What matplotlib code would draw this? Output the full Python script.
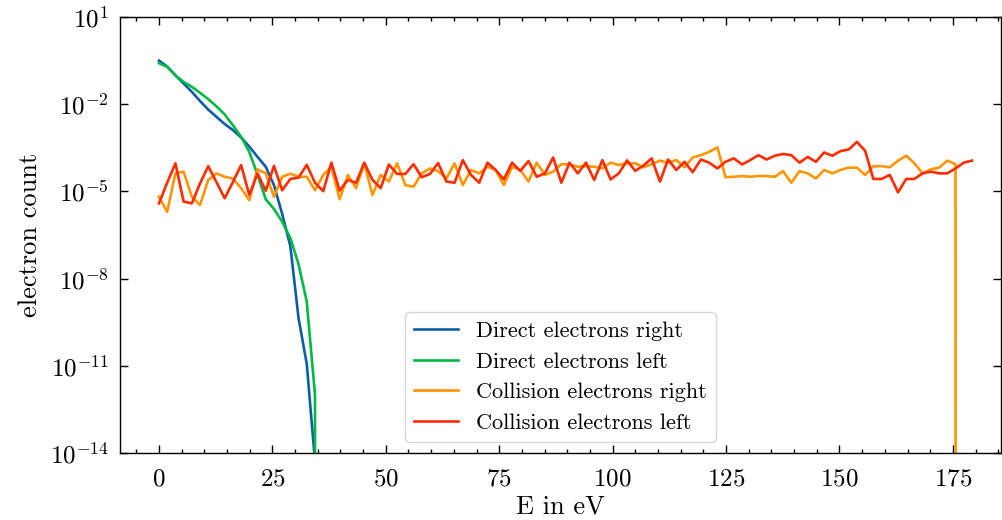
import matplotlib
matplotlib.use("Agg")
import matplotlib.pyplot as plt
import matplotlib.ticker as mticker
import numpy as np

plt.rcParams['font.family'] = 'serif'
plt.rcParams['font.serif'] = ['cmr10', 'DejaVu Serif']
plt.rcParams['mathtext.fontset'] = 'cm'
plt.rcParams['axes.formatter.use_mathtext'] = True
plt.rcParams['font.size'] = 16

# energy bins (eV)
energy = [round(1.81 * k, 2) for k in range(100)]

direct_right = [3.2e-1, 2.0e-1, 1.0e-1, 5.2e-2, 2.7e-2, 1.3e-2, 6.6e-3, 3.7e-3, 2.1e-3, 1.3e-3,
                7.2e-4, 3.5e-4, 1.55e-4, 7.1e-5, 1.66e-5, 1.7e-6, 1.3e-7, 4.3e-10, 1.15e-11, 5.0e-15,
                0.0]
direct_left = [2.6e-1, 1.95e-1, 9.8e-2, 5.9e-2, 4.0e-2, 2.5e-2, 1.5e-2, 8.5e-3, 4.5e-3, 1.9e-3,
               7.6e-4, 2.3e-4, 3.8e-5, 5.4e-6, 2.5e-6, 9.1e-7, 2.5e-7, 3.1e-8, 1.6e-9, 1.0e-12,
               0.0]

collision_right = [6.6e-6, 2.0e-6, 4.2e-5, 4.8e-5, 6.6e-6, 3.4e-6, 2.5e-5, 4.2e-5, 3.2e-5, 2.8e-5,
                   1.3e-5, 5.0e-6, 5.8e-5, 4.2e-5, 6.5e-6, 3.2e-5, 4.1e-5, 3.2e-5, 3.2e-5, 1.1e-5,
                   3.7e-5, 7.1e-5, 5.4e-6, 3.7e-5, 1.3e-5, 9.3e-5, 7.6e-6, 3.7e-5, 2.2e-5, 9.3e-5,
                   1.66e-5, 1.45e-5, 4.2e-5, 6.2e-5, 5.0e-5, 2.8e-5, 9.3e-5, 1.66e-5, 5.5e-5, 4.2e-5,
                   7.1e-5, 5.5e-5, 1.66e-5, 7.1e-5, 5.5e-5, 2.2e-5, 9.8e-5, 3.7e-5, 4.8e-5, 8.7e-5,
                   8.5e-5, 7.1e-5, 7.4e-5, 7.1e-5, 6.2e-5, 9.8e-5, 8.1e-5, 9.3e-5, 9.3e-5, 6.8e-5,
                   8.7e-5, 1.15e-4, 9.8e-5, 1.2e-4, 6.8e-5, 1.48e-4, 1.78e-4, 2.3e-4, 3.3e-4, 3.1e-5,
                   3.2e-5, 3.4e-5, 3.2e-5, 3.4e-5, 3.4e-5, 3.2e-5, 5.0e-5, 2.0e-5, 5.0e-5, 4.2e-5,
                   2.8e-5, 5.5e-5, 4.2e-5, 5.5e-5, 6.6e-5, 6.6e-5, 3.7e-5, 7.4e-5, 7.4e-5, 6.8e-5,
                   1.15e-4, 1.7e-4, 9.3e-5, 4.2e-5, 5.8e-5, 6.6e-5, 1.15e-4, 8.7e-5, 0.0, 0.0]

collision_left = [3.9e-6, 2.0e-5, 9.3e-5, 4.5e-6, 3.9e-6, 1.9e-5, 7.4e-5, 2.1e-5, 5.8e-6, 2.1e-5,
                  8.1e-5, 7.6e-6, 4.2e-5, 1.05e-5, 7.6e-5, 1.1e-5, 2.7e-5, 3.0e-5, 8.3e-5, 2.0e-5,
                  1.02e-5, 9.8e-5, 1.07e-5, 2.5e-5, 2.0e-5, 9.8e-5, 2.5e-5, 1.3e-5, 8.5e-5, 4.0e-5,
                  4.0e-5, 8.7e-5, 3.1e-5, 4.0e-5, 9.5e-5, 2.2e-5, 2.0e-5, 1.2e-4, 3.7e-5, 2.0e-5,
                  9.8e-5, 5.5e-5, 2.6e-5, 9.8e-5, 5.1e-5, 1.12e-4, 3.2e-5, 4.2e-5, 1.48e-4, 2.0e-5,
                  9.8e-5, 4.2e-5, 9.8e-5, 2.5e-5, 1.2e-4, 2.6e-5, 4.2e-5, 1.17e-4, 5.1e-5, 7.8e-5,
                  1.38e-4, 2.2e-5, 1.26e-4, 5.5e-5, 1.05e-4, 4.6e-5, 1.26e-4, 9.8e-5, 6.2e-5, 1.05e-4,
                  1.38e-4, 8.5e-5, 1.2e-4, 1.78e-4, 1.26e-4, 1.7e-4, 1.95e-4, 1.78e-4, 9.8e-5, 1.55e-4,
                  1.05e-4, 2.2e-4, 1.7e-4, 2.45e-4, 2.8e-4, 5.1e-4, 2.5e-4, 2.7e-5, 2.7e-5, 3.7e-5,
                  9.3e-6, 2.7e-5, 2.7e-5, 4.2e-5, 4.8e-5, 4.2e-5, 4.2e-5, 6.2e-5, 9.8e-5, 1.15e-4]

labels = ['Direct electrons right', 'Direct electrons left',
          'Collision electrons right', 'Collision electrons left']
colors = ['#0C5DA5', '#00B945', '#FF9500', '#FF2C00']

fig = plt.figure(figsize=(10.03, 5.2), dpi=100)
ax = fig.add_axes([0.1196, 0.129, 0.8784, 0.838])

ax.plot(energy[:len(direct_right)], direct_right, color=colors[0], lw=1.9, label=labels[0])
ax.plot(energy[:len(direct_left)], direct_left, color=colors[1], lw=1.9, label=labels[1])
ax.plot(energy, collision_right, color=colors[2], lw=1.9, label=labels[2])
ax.plot(energy, collision_left, color=colors[3], lw=1.9, label=labels[3])

ax.set_yscale('log')
ax.set_ylim(1e-14, 1e1)
ax.set_xlim(-8.6, 185.6)
ax.set_yticks([1e1, 1e-2, 1e-5, 1e-8, 1e-11, 1e-14])
ax.yaxis.set_minor_locator(mticker.NullLocator())
ax.xaxis.set_major_locator(mticker.MultipleLocator(25))
ax.xaxis.set_minor_locator(mticker.MultipleLocator(5))
ax.tick_params(which='both', direction='in', top=True, right=True, width=1.0, labelsize=18)
ax.tick_params(which='major', length=5.5, pad=8)
ax.tick_params(axis='x', which='major', pad=11)
ax.tick_params(which='minor', length=3)
for s in ax.spines.values():
    s.set_linewidth(1.0)

ax.set_xlabel('E in eV', fontsize=19, labelpad=3)
ax.set_ylabel('electron count', fontsize=19, labelpad=6)
ax.legend(loc='lower center', frameon=True, fontsize=16)

fig.savefig('out.png', dpi=100)
